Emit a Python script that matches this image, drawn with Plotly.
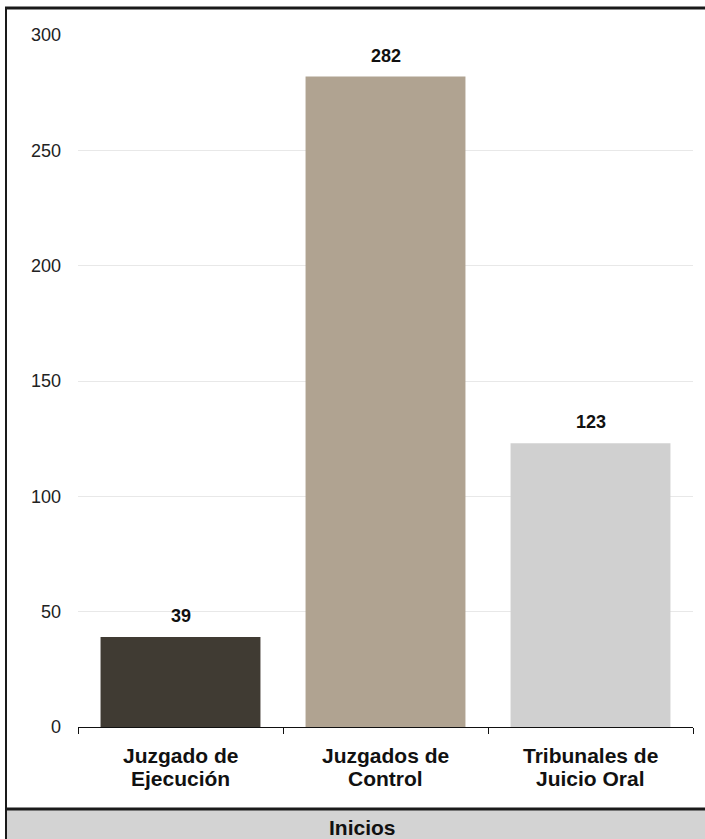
import plotly.graph_objects as go

categories = ["Juzgado de<br>Ejecución", "Juzgados de<br>Control", "Tribunales de<br>Juicio Oral"]
values = [39, 282, 123]
colors = ["#403b33", "#b0a391", "#d0d0d0"]
y_ticks = [0, 50, 100, 150, 200, 250, 300]
band_label = "Inicios"

W, H = 705, 839
FONT = "Liberation Sans, Arial, sans-serif"


def py(pix):
    return 1 - pix / H


fig = go.Figure()
fig.add_trace(go.Bar(
    x=categories, y=values, marker=dict(color=colors, line=dict(width=0)),
    hoverinfo="skip",
))

for c, v in zip(categories, values):
    fig.add_annotation(x=c, y=v, text=f"<b>{v}</b>", showarrow=False,
                       yanchor="bottom", yshift=9,
                       font=dict(family=FONT, size=18, color="#111"))

# category labels, two lines each, placed at the category positions
for c in categories:
    for i, line in enumerate(c.split("<br>")):
        fig.add_annotation(x=c, xref="x", yref="paper", y=py(755 + 23 * i),
                           text=f"<b>{line}</b>", showarrow=False,
                           yanchor="middle",
                           font=dict(family=FONT, size=21, color="#111"))

# bottom band
fig.add_shape(type="rect", xref="paper", yref="paper",
              x0=6/W, x1=1.0, y0=0, y1=py(809),
              fillcolor="#d3d3d3", line=dict(width=0), layer="below")
fig.add_shape(type="line", xref="paper", yref="paper",
              x0=6/W, x1=1.0, y0=py(809), y1=py(809),
              line=dict(color="#1a1a1a", width=3))
# outer border (top and left)
fig.add_shape(type="line", xref="paper", yref="paper",
              x0=5/W, x1=1.0, y0=py(8), y1=py(8),
              line=dict(color="#1a1a1a", width=3))
fig.add_shape(type="line", xref="paper", yref="paper",
              x0=6/W, x1=6/W, y0=0, y1=py(8),
              line=dict(color="#1a1a1a", width=2))

fig.add_annotation(xref="paper", yref="paper", x=362/W, y=py(827),
                   text=f"<b>{band_label}</b>", showarrow=False, yanchor="middle",
                   font=dict(family=FONT, size=21, color="#111"))

fig.update_layout(
    width=W, height=H,
    margin=dict(l=0, r=0, t=0, b=0, autoexpand=False),
    paper_bgcolor="white", plot_bgcolor="white",
    bargap=0.22, showlegend=False,
    font=dict(family=FONT),
    xaxis=dict(domain=[78/W, 693/W], showline=True, linecolor="#111", linewidth=1,
               ticks="outside", tickson="boundaries", ticklen=6, tickcolor="#111",
               showticklabels=False,
               showgrid=False, fixedrange=True, automargin=False),
    yaxis=dict(domain=[py(727), py(35)], range=[0, 300], tickvals=y_ticks,
               showgrid=True, gridcolor="#e8e8e8", gridwidth=1,
               zeroline=False, showline=False, ticks="", automargin=False,
               ticklabelstandoff=16,
               tickfont=dict(family=FONT, size=18, color="#222")),
)

fig.write_html("out.html", config={"displayModeBar": False},
               post_script="document.body.style.margin='0';document.body.style.overflow='hidden';")
